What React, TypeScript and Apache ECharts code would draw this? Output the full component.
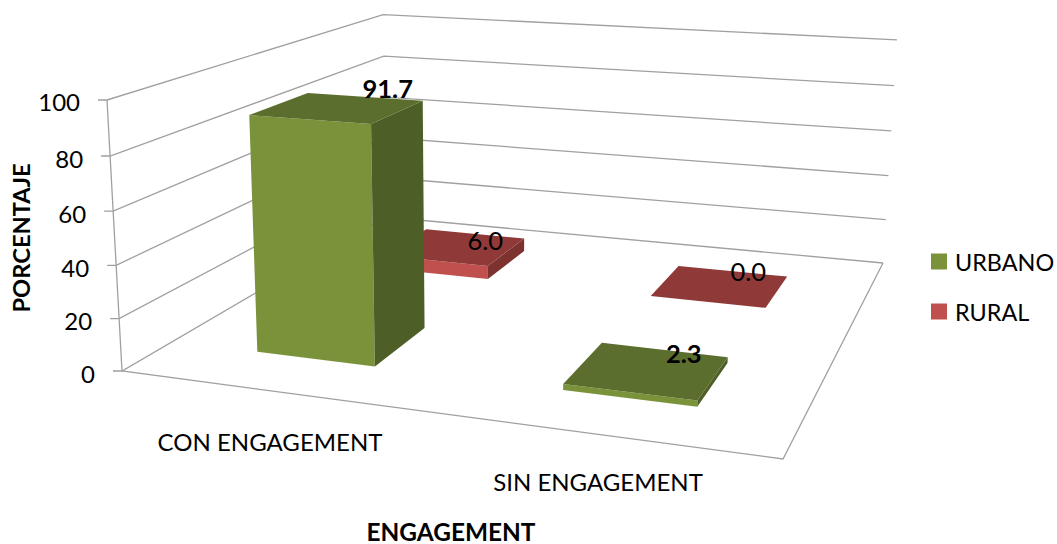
import React, { useEffect, useRef } from "react";
import * as echarts from "echarts";

const categories = ["CON ENGAGEMENT", "SIN ENGAGEMENT"];
const urbano = [91.7, 2.3];
const rural = [6.0, 0.0];
const yTicks = [0, 20, 40, 60, 80, 100];
const xAxisTitle = "ENGAGEMENT";
const yAxisTitle = "PORCENTAJE";

const W = 1057;
const H = 544;
const FONT = "Lato, Carlito, sans-serif";

// Perspective of the chart box: unit floor (u, w) + height h
const g = -0.13067, hh = 0.35627;
const a = 558.7, b = 401.5, c = 122;
const d = 28.02, e = -76.69, f = 371;
const vp = [476, 6767];
const s = -0.04065;
const barScale = 0.987;

function project(u: number, w: number, h: number): number[] {
  const den = g * u + hh * w + 1 + s * h;
  return [
    (a * u + b * w + c + s * h * vp[0]) / den,
    (d * u + e * w + f + s * h * vp[1]) / den,
  ];
}

const labelNudge: Record<string, number[][]> = {
  URBANO: [[-35, -13], [-44, -4]],
  RURAL: [[-39, 1], [-39, -6]],
};

function barSeries(
  name: string,
  values: number[],
  depthCenter: number,
  z: number,
  colors: { front: string; top: string; side: string },
  bold: boolean
) {
  return {
    name,
    type: "custom",
    coordinateSystem: "cartesian2d",
    z,
    silent: true,
    itemStyle: { color: colors.front },
    data: values.map((v, i) => [categories[i], v]),
    encode: { x: 0, y: 1 },
    renderItem: (params: any, api: any) => {
      const cs = params.coordSys;
      const idx = api.value(0);
      const val = api.value(1);
      const pt = api.coord([idx, val]);
      const band = api.size([1, 0])[0] / cs.width;
      const uc = (pt[0] - cs.x) / cs.width;
      const hv = ((cs.y + cs.height - pt[1]) / cs.height) * barScale;
      const u0 = uc - band * 0.2;
      const u1 = uc + band * 0.2;
      const w0 = depthCenter - 0.1;
      const w1 = depthCenter + 0.1;
      const poly = (pts: number[][], fill: string) => ({
        type: "polygon",
        shape: { points: pts },
        style: { fill },
      });
      const anchor = project(u1, w1, hv);
      const nudge = labelNudge[name][params.dataIndex];
      return {
        type: "group",
        children: [
          poly([project(u0, w0, 0), project(u1, w0, 0), project(u1, w0, hv), project(u0, w0, hv)], colors.front),
          poly([project(u1, w0, 0), project(u1, w1, 0), project(u1, w1, hv), project(u1, w0, hv)], colors.side),
          poly([project(u0, w0, hv), project(u1, w0, hv), project(u1, w1, hv), project(u0, w1, hv)], colors.top),
          {
            type: "text",
            x: anchor[0] + nudge[0],
            y: anchor[1] + nudge[1],
            style: {
              text: val.toFixed(1),
              fontFamily: FONT,
              fontSize: 25.5,
              fontWeight: bold ? "bold" : "normal",
              fill: "#000",
              align: "center",
              verticalAlign: "middle",
            },
          },
        ],
      };
    },
  };
}

const wallSeries = {
  name: "walls",
  type: "custom",
  coordinateSystem: "cartesian2d",
  z: 1,
  silent: true,
  data: yTicks.map((t) => [categories[0], t]),
  encode: { x: 0, y: 1 },
  renderItem: (params: any, api: any) => {
    const cs = params.coordSys;
    const t = api.value(1);
    const py = api.coord([0, t])[1];
    const h = (cs.y + cs.height - py) / cs.height;
    const lineStyle = { stroke: "#a0a0a0", lineWidth: 1.3, fill: "none" };
    const p0 = project(0, 0, h);
    const p1 = project(0, 1, h);
    const p2 = project(1, 1, h);
    const children: any[] = [
      { type: "polyline", shape: { points: [[p0[0] - 9, p0[1]], p0, p1, p2] }, style: lineStyle },
      {
        type: "text",
        x: p0[0] - 27,
        y: p0[1] + 2,
        style: {
          text: String(t),
          fontFamily: FONT,
          fontSize: 24,
          fill: "#000",
          align: "right",
          verticalAlign: "middle",
        },
      },
    ];
    if (params.dataIndex === 0) {
      children.push({
        type: "polyline",
        shape: { points: [project(0, 0, 1), project(0, 0, 0), project(1, 0, 0), project(1, 1, 0)] },
        style: lineStyle,
      });
    }
    return { type: "group", children };
  },
};

export default function App() {
  const ref = useRef<HTMLDivElement>(null);
  useEffect(() => {
    document.body.style.margin = "0";
    const chart = echarts.init(ref.current!, null, { renderer: "svg" });
    const axisText = (text: string, x: number, y: number, size: number, bold = false, rotation = 0) => ({
      type: "text",
      x,
      y,
      rotation,
      style: {
        text,
        fontFamily: FONT,
        fontSize: size,
        fontWeight: bold ? "bold" : "normal",
        fill: "#000",
        align: "center",
        verticalAlign: "middle",
      },
    });
    chart.setOption({
      animation: false,
      backgroundColor: "#fff",
      grid: { left: 0, right: 0, top: 0, bottom: 0, containLabel: false },
      xAxis: { type: "category", data: categories, show: false },
      yAxis: { type: "value", min: 0, max: 100, interval: 20, show: false },
      legend: {
        data: ["URBANO", "RURAL"],
        orient: "vertical",
        left: 931,
        top: 250,
        padding: 0,
        itemWidth: 16,
        itemHeight: 16,
        itemGap: 27,
        icon: "rect",
        textStyle: { fontFamily: FONT, fontSize: 23.4, color: "#000", padding: [0, 0, 0, 3] },
      },
      series: [
        wallSeries,
        barSeries("URBANO", urbano, 0.25, 4, { front: "#7a933b", top: "#5b6e2d", side: "#4d5f26" }, true),
        barSeries("RURAL", rural, 0.75, 3, { front: "#c0504d", top: "#8f3a38", side: "#7e3230" }, false),
      ],
      graphic: [
        axisText(categories[0], 270, 441.5, 24),
        axisText(categories[1], 598, 481.5, 24),
        axisText(xAxisTitle, 451, 531, 24.4, true),
        axisText(yAxisTitle, 21, 238, 23.7, true, Math.PI / 2),
      ],
    });
    return () => chart.dispose();
  }, []);
  return <div ref={ref} style={{ position: "absolute", left: 0, top: 0, width: W, height: H }} />;
}
